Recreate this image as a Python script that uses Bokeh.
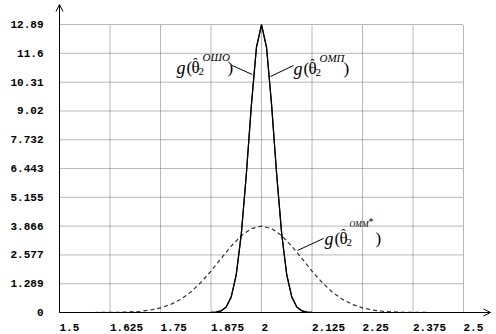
from bokeh.plotting import figure
from bokeh.models import FixedTicker, Range1d, Arrow, OpenHead
from bokeh.core.properties import value
from bokeh.embed import file_html
from bokeh.resources import INLINE

# ---------------- data ----------------
x_ticks = [1.5, 1.625, 1.75, 1.875, 2.0, 2.125, 2.25, 2.375, 2.5]
x_tick_labels = ["1.5", "1.625", "1.75", "1.875", "2", "2.125", "2.25", "2.375", "2.5"]
y_ticks = [0, 1.289, 2.577, 3.866, 5.155, 6.443, 7.732, 9.02, 10.31, 11.6, 12.89]
y_tick_labels = ["0", "1.289", "2.577", "3.866", "5.155", "6.443", "7.732", "9.02", "10.31", "11.6", "12.89"]

theta_solid = [1.6875, 1.875, 1.8875, 1.9, 1.9125, 1.925, 1.9375, 1.95, 1.9625, 1.975, 1.9875,
               2.0, 2.0125, 2.025, 2.0375, 2.05, 2.0625, 2.075, 2.0875, 2.1, 2.1125, 2.125, 2.3125]
g_osho = [0, 0.004, 0.017, 0.070, 0.237, 0.685, 1.68, 3.50, 6.19, 9.30, 11.88,
          12.89, 11.88, 9.30, 6.19, 3.50, 1.68, 0.685, 0.237, 0.070, 0.017, 0.004, 0]
g_omp = [0, 0.005, 0.020, 0.078, 0.250, 0.700, 1.70, 3.52, 6.20, 9.28, 11.85,
         12.86, 11.85, 9.28, 6.20, 3.52, 1.70, 0.700, 0.250, 0.078, 0.020, 0.005, 0]

theta_mm = [1.5, 1.525, 1.55, 1.575, 1.6, 1.625, 1.65, 1.675, 1.7, 1.725, 1.75, 1.775, 1.8, 1.825,
            1.85, 1.875, 1.9, 1.925, 1.95, 1.975, 2.0, 2.025, 2.05, 2.075, 2.1, 2.125, 2.15, 2.175,
            2.2, 2.225, 2.25, 2.275, 2.3, 2.325, 2.35, 2.375, 2.4, 2.425, 2.45, 2.475, 2.5]
g_omm = [0, 0, 0, 0, 0.002, 0.005, 0.012, 0.027, 0.057, 0.111, 0.206, 0.359, 0.591, 0.918,
         1.344, 1.856, 2.418, 2.969, 3.438, 3.754, 3.866, 3.754, 3.438, 2.969, 2.418, 1.856, 1.344,
         0.918, 0.591, 0.359, 0.206, 0.111, 0.057, 0.027, 0.012, 0.005, 0.002, 0, 0, 0, 0]

# ---------------- figure ----------------
PX_X = 404.0    # pixels per unit on x
PX_Y = 22.343   # pixels per unit on y
p = figure(width=496, height=334, output_backend="svg", toolbar_location=None,
           x_range=Range1d(1.5 - 9 / PX_X, 1.5 + 437 / PX_X),
           y_range=Range1d(-22 / PX_Y, 312 / PX_Y),
           x_axis_location=None,
           min_border_left=50, min_border_right=0, min_border_top=0, min_border_bottom=0)
p.outline_line_color = None
p.xgrid.visible = False
p.ygrid.visible = False
p.background_fill_color = "white"
p.border_fill_color = "white"

TICK_FONT = "Liberation Mono"
ax = p.yaxis[0]
ax.axis_line_color = None
ax.major_tick_line_color = None
ax.minor_tick_line_color = None
ax.major_tick_in = 0
ax.major_tick_out = 0
ax.major_label_text_font = TICK_FONT
ax.major_label_text_font_style = "bold"
ax.major_label_text_font_size = "11px"
ax.major_label_text_color = "black"
ax.ticker = FixedTicker(ticks=y_ticks)
ax.major_label_overrides = dict(zip(y_ticks, y_tick_labels))
ax.major_label_standoff = 7

# x tick labels: left-aligned at each tick, just under the axis
p.text(x=x_ticks, y=[0] * len(x_ticks), text=x_tick_labels, y_offset=15,
       text_font=value(TICK_FONT), text_font_style="bold", text_font_size="11px",
       text_color="black", text_align="left", text_baseline="alphabetic")

# grid (dotted), bounded to the data area
gx = x_ticks[1:]
p.segment(x0=gx, y0=[y_ticks[0]] * len(gx), x1=gx, y1=[y_ticks[-1]] * len(gx),
          line_color="#707070", line_dash="1 1", line_width=1)
gy = y_ticks[1:]
p.segment(x0=[x_ticks[0]] * len(gy), y0=gy, x1=[x_ticks[-1]] * len(gy), y1=gy,
          line_color="#707070", line_dash="1 1", line_width=1)

# axes with arrows
p.add_layout(Arrow(end=OpenHead(size=7, line_width=1, line_color="black"),
                   x_start=x_ticks[0], y_start=0, x_end=1.5 + 431 / PX_X, y_end=0,
                   line_color="black", line_width=1))
p.add_layout(Arrow(end=OpenHead(size=7, line_width=1, line_color="black"),
                   x_start=x_ticks[0], y_start=0, x_end=x_ticks[0], y_end=308 / PX_Y,
                   line_color="black", line_width=1))

# curves
p.line(theta_mm, g_omm, line_color="#303030", line_width=1.2, line_dash="4 3")
p.line(theta_solid, g_omp, line_color="black", line_width=1.2)
p.line(theta_solid, g_osho, line_color="black", line_width=1.2)

# ---------------- annotations ----------------
SERIF = value("Liberation Serif")


def put(x, y, txt, dx, dy, size, style, align="left"):
    p.text(x=[x], y=[y], text=[txt], x_offset=dx, y_offset=dy,
           text_font=SERIF, text_font_size=size, text_font_style=style,
           text_color="black", text_baseline="alphabetic", text_align=align)


def label(x, y, sup, sup_size="11px", sup_dy=-11, sup_dx=26, close_dx=49, star=False):
    put(x, y, "g", 0, 0, "18px", "italic")
    put(x, y, "(", 10, 0, "17px", "normal")
    put(x, y, "\u03b8", 15, 0, "17px", "normal")
    put(x, y, "\u02c6", 19, -5, "13px", "normal", align="center")
    put(x, y, "2", 22, 4, "11px", "normal")
    put(x, y, sup, sup_dx, sup_dy, sup_size, "italic")
    if star:
        put(x, y, "*", close_dx - 7, sup_dy - 3, "10px", "normal")
    put(x, y, ")", close_dx, 0, "17px", "normal")


label(1.5 + 117 / PX_X, 245 / PX_Y, "ОШО", close_dx=51)
label(1.5 + 234 / PX_X, 244 / PX_Y, "ОМП", close_dx=50)
label(1.5 + 265 / PX_X, 74 / PX_Y, "ОММ", sup_size="8px", sup_dy=-14, sup_dx=25,
      close_dx=51, star=True)

# leader lines
p.segment(x0=[1.9275, 2.0792, 2.1535], y0=[11.055, 11.055, 3.312],
          x1=[1.977, 2.0223, 2.0891], y1=[10.652, 10.562, 2.775],
          line_color="black", line_width=1)

open("out.html", "w").write(file_html(p, INLINE))
